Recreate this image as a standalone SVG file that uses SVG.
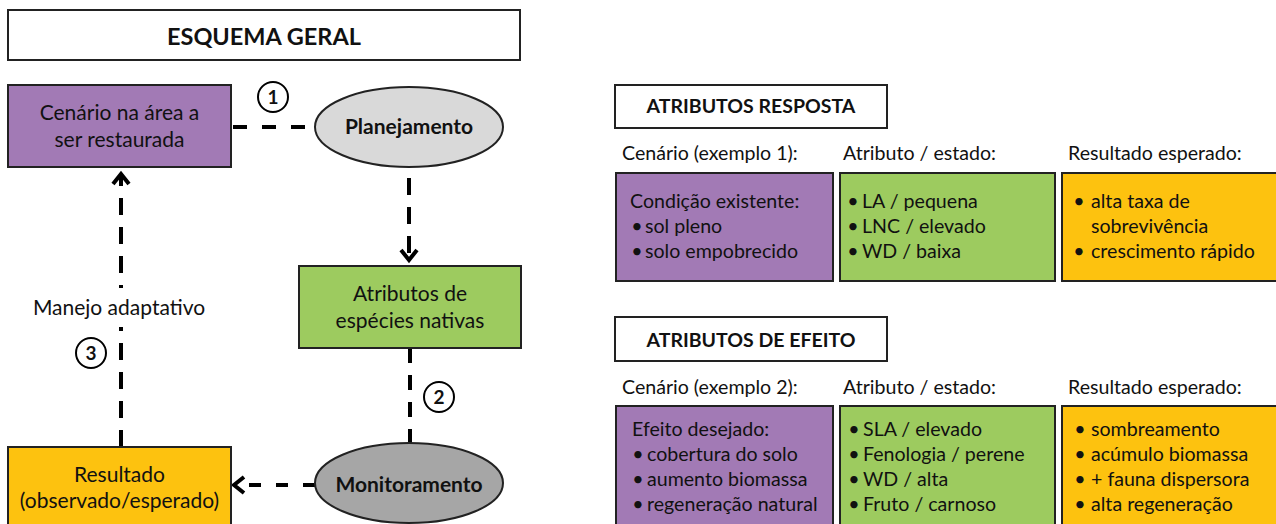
<svg xmlns="http://www.w3.org/2000/svg" width="1276" height="524" viewBox="0 0 1276 524">
<defs>
<style>
text{font-family:Lato,"Liberation Sans",sans-serif;fill:#111;}
.t{font-size:21px;}
.r{font-size:19.6px;}
.c{text-anchor:middle;}
.b{font-weight:bold;}
.box{stroke:#222;stroke-width:2;}
.title{fill:#fff;stroke:#222;stroke-width:2;}
.purple{fill:#a27ab5;}
.green{fill:#9dcb5f;}
.orange{fill:#fdc20f;}
.conn{fill:none;stroke:#000;stroke-width:4;}
.num{fill:#fff;stroke:#000;stroke-width:2;}
.numt{font-size:19px;font-weight:bold;text-anchor:middle;}
</style>
<marker id="chev" markerUnits="userSpaceOnUse" markerWidth="24" markerHeight="24" refX="14" refY="10" orient="auto" overflow="visible">
<path d="M4,2 L14,10 L4,18" fill="none" stroke="#000" stroke-width="4"/>
</marker>
</defs>
<rect width="1276" height="524" fill="#fff"/>

<g id="esquema-geral">
<rect class="title" x="8" y="10" width="512" height="50"/>
<text class="c b" x="264" y="45" font-size="23.5">ESQUEMA GERAL</text>
</g>

<g id="connectors">
<line class="conn" x1="233" y1="127" x2="315" y2="127" stroke-dasharray="14 15"/>
<line class="conn" x1="409" y1="178" x2="409" y2="260" stroke-dasharray="17 12" marker-end="url(#chev)"/>
<line class="conn" x1="410" y1="348" x2="410" y2="443" stroke-dasharray="15 12"/>
<line class="conn" x1="315" y1="485" x2="234" y2="485" stroke-dasharray="12 15" marker-end="url(#chev)"/>
<line class="conn" x1="121" y1="447" x2="121" y2="174" stroke-dasharray="17 12" marker-end="url(#chev)"/>
<rect x="26" y="288" width="188" height="39" fill="#fff"/>
<text class="t c" x="119" y="315">Manejo adaptativo</text>
<circle class="num" cx="273" cy="97" r="15"/>
<text class="numt" x="273" y="104">1</text>
<circle class="num" cx="439" cy="397" r="15"/>
<text class="numt" x="439" y="404">2</text>
<circle class="num" cx="91" cy="353" r="15"/>
<text class="numt" x="91" y="360">3</text>
</g>

<g id="cenario">
<rect class="box purple" x="8" y="85" width="223" height="82"/>
<text class="t c" x="119.5" y="120">Cenário na área a</text>
<text class="t c" x="119.5" y="147">ser restaurada</text>
</g>

<g id="planejamento">
<ellipse cx="409" cy="127" rx="94" ry="40" fill="#d9d9d9" stroke="#222" stroke-width="2"/>
<text class="c b" x="409" y="134" font-size="21">Planejamento</text>
</g>

<g id="atributos-especies">
<rect class="box green" x="299" y="266" width="222" height="82"/>
<text class="t c" x="410" y="301">Atributos de</text>
<text class="t c" x="410" y="328">espécies nativas</text>
</g>

<g id="monitoramento">
<ellipse cx="409" cy="483" rx="94" ry="40" fill="#a6a6a6" stroke="#222" stroke-width="2"/>
<text class="c b" x="409" y="492" font-size="21">Monitoramento</text>
</g>

<g id="resultado">
<rect class="box orange" x="8" y="447" width="223" height="90"/>
<text class="t c" x="119.5" y="482">Resultado</text>
<text class="t c" x="119.5" y="508">(observado/esperado)</text>
</g>

<g id="atributos-resposta">
<rect class="title" x="615" y="85" width="272" height="43"/>
<text class="c b" x="751" y="113" font-size="19.5">ATRIBUTOS RESPOSTA</text>
<text class="r" x="622" y="160">Cenário (exemplo 1):</text>
<text class="r" x="843" y="160">Atributo / estado:</text>
<text class="r" x="1068" y="160">Resultado esperado:</text>
<rect class="box purple" x="616" y="173" width="217" height="108"/>
<text class="r" x="630" y="208">Condição existente:</text>
<text class="r c" x="637" y="233">•</text><text class="r" x="645" y="233">sol pleno</text>
<text class="r c" x="637" y="258">•</text><text class="r" x="645" y="258">solo empobrecido</text>
<rect class="box green" x="840" y="173" width="215" height="108"/>
<text class="r c" x="853" y="208">•</text><text class="r" x="862" y="208">LA / pequena</text>
<text class="r c" x="853" y="233">•</text><text class="r" x="862" y="233">LNC / elevado</text>
<text class="r c" x="853" y="258">•</text><text class="r" x="862" y="258">WD / baixa</text>
<rect class="box orange" x="1062" y="173" width="220" height="108"/>
<text class="r c" x="1079" y="208">•</text><text class="r" x="1091" y="208">alta taxa de</text>
<text class="r" x="1091" y="233">sobrevivência</text>
<text class="r c" x="1079" y="258">•</text><text class="r" x="1091" y="258">crescimento rápido</text>
</g>

<g id="atributos-efeito">
<rect class="title" x="615" y="317" width="272" height="44"/>
<text class="c b" x="751" y="347" font-size="19.5">ATRIBUTOS DE EFEITO</text>
<text class="r" x="622" y="394">Cenário (exemplo 2):</text>
<text class="r" x="843" y="394">Atributo / estado:</text>
<text class="r" x="1068" y="394">Resultado esperado:</text>
<rect class="box purple" x="616" y="406" width="217" height="130"/>
<text class="r" x="632" y="436">Efeito desejado:</text>
<text class="r c" x="638" y="461">•</text><text class="r" x="647" y="461">cobertura do solo</text>
<text class="r c" x="638" y="486">•</text><text class="r" x="647" y="486">aumento biomassa</text>
<text class="r c" x="638" y="511">•</text><text class="r" x="647" y="511">regeneração natural</text>
<rect class="box green" x="840" y="406" width="215" height="130"/>
<text class="r c" x="854" y="436">•</text><text class="r" x="863" y="436">SLA / elevado</text>
<text class="r c" x="854" y="461">•</text><text class="r" x="863" y="461">Fenologia / perene</text>
<text class="r c" x="854" y="486">•</text><text class="r" x="863" y="486">WD / alta</text>
<text class="r c" x="854" y="511">•</text><text class="r" x="863" y="511">Fruto / carnoso</text>
<rect class="box orange" x="1062" y="406" width="220" height="130"/>
<text class="r c" x="1080" y="436">•</text><text class="r" x="1091" y="436">sombreamento</text>
<text class="r c" x="1080" y="461">•</text><text class="r" x="1091" y="461">acúmulo biomassa</text>
<text class="r c" x="1080" y="486">•</text><text class="r" x="1091" y="486">+ fauna dispersora</text>
<text class="r c" x="1080" y="511">•</text><text class="r" x="1091" y="511">alta regeneração</text>
</g>
</svg>
